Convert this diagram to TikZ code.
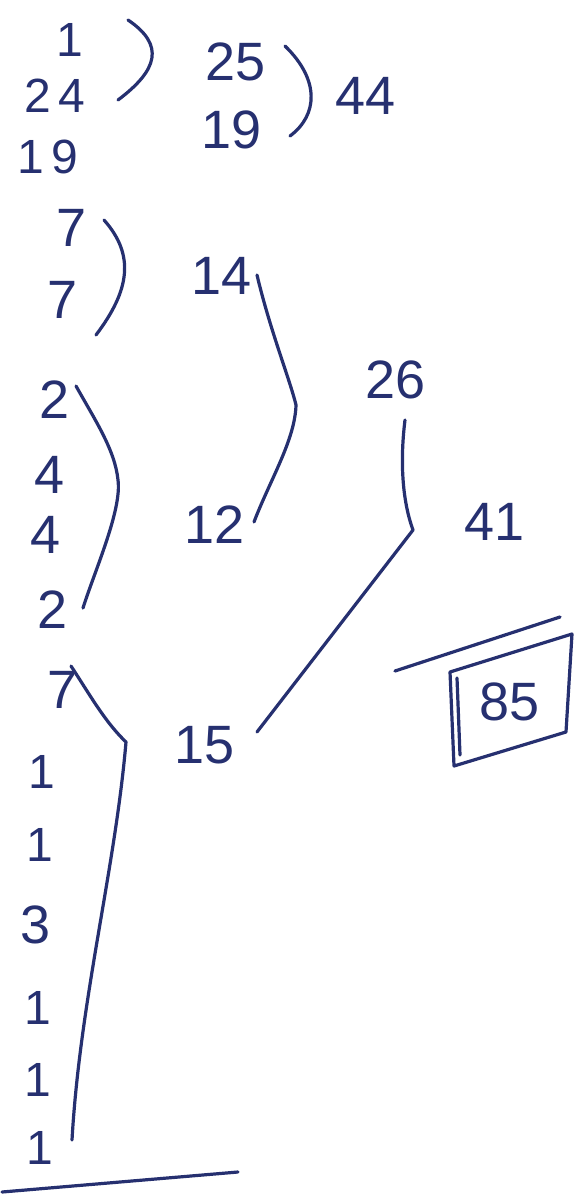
\documentclass[tikz,border=0pt]{standalone}
\usepackage{fontspec}
\setmainfont{Liberation Sans}
\definecolor{ink}{RGB}{38,48,112}
\begin{document}
\begin{tikzpicture}[x=1pt,y=-1pt,
  num/.style={text=ink,inner sep=0pt,font=\fontsize{54}{58}\selectfont},
  small/.style={num,font=\fontsize{48}{52}\selectfont},
  pen/.style={draw=ink,line width=3.2pt,line cap=round,line join=round}]
\useasboundingbox[fill=white] (0,0) rectangle (578,1196);
% top group
\node[small] (a1) at (70,40) {1};
\node[small] (a24) at (55,96) {2\,4};
\node[small] (a19) at (48,157) {1\,9};
\node[num] (b25) at (236,62) {25};
\node[num] (b19) at (232,130) {19};
\node[num] (c44) at (366,96) {44};
\coordinate (k1s) at (128,20);
\coordinate (k1e) at (118,100);
\draw[pen] (k1s) .. controls (165,45) and (158,70) .. (k1e);
\coordinate (k2s) at (285,46);
\coordinate (k2e) at (290,136);
\draw[pen] (k2s) .. controls (320,80) and (318,115) .. (k2e);
% second group
\node[num] (d7a) at (72,228) {7};
\node[num] (d7b) at (63,300) {7};
\node[num] (e14) at (222,276) {14};
\coordinate (k3s) at (104,220);
\coordinate (k3e) at (96,335);
\draw[pen] (k3s) .. controls (135,255) and (130,290) .. (k3e);
\node[num] (d2a) at (55,400) {2};
\node[num] (d4a) at (50,475) {4};
\node[num] (d4b) at (46,535) {4};
\node[num] (d2b) at (53,610) {2};
\node[num] (e12) at (215,525) {12};
\coordinate (k4s) at (76,386);
\coordinate (k4m) at (118,480);
\coordinate (k4e) at (83,608);
\draw[pen] (k4s) .. controls (95,420) and (115,450) .. (k4m) .. controls (122,510) and (95,570) .. (k4e);
\coordinate (k5s) at (257,275);
\coordinate (k5m) at (296,405);
\coordinate (k5e) at (254,522);
\draw[pen] (k5s) .. controls (270,330) and (290,380) .. (k5m) .. controls (295,440) and (270,480) .. (k5e);
\node[num] (f26) at (396,380) {26};
\node[num] (g41) at (495,522) {41};
\node[num] (e15) at (205,745) {15};
\coordinate (k6s) at (405,420);
\coordinate (k6m) at (413,530);
\coordinate (k6e) at (257,732);
\draw[pen] (k6s) .. controls (400,460) and (402,500) .. (k6m) -- (k6e);
% bottom group
\node[num] (h7) at (63,690) {7};
\node[small] (h1a) at (42,772) {1};
\node[small] (h1b) at (40,845) {1};
\node[num] (h3) at (36,925) {3};
\node[small] (h1c) at (38,1008) {1};
\node[small] (h1d) at (38,1080) {1};
\node[small] (h1e) at (40,1148) {1};
\coordinate (k7s) at (71,666);
\coordinate (k7m) at (126,742);
\coordinate (k7e) at (72,1140);
\draw[pen] (k7s) .. controls (90,695) and (105,722) .. (k7m) .. controls (115,870) and (80,1000) .. (k7e);
\coordinate (r1s) at (2,1192);
\coordinate (r1e) at (238,1172);
\draw[pen] (r1s) -- (r1e);
% result
\coordinate (r2s) at (395,671);
\coordinate (r2e) at (560,617);
\draw[pen] (r2s) -- (r2e);
\coordinate (bx1) at (450,672);
\coordinate (bx2) at (572,634);
\coordinate (bx3) at (566,732);
\coordinate (bx4) at (454,766);
\draw[pen] (bx1) -- (bx2) -- (bx3) -- (bx4) -- cycle;
\coordinate (bxa) at (457,678);
\coordinate (bxb) at (460,755);
\draw[pen] (bxa) -- (bxb);
\node[num] (res) at (510,702) {85};
\end{tikzpicture}
\end{document}
